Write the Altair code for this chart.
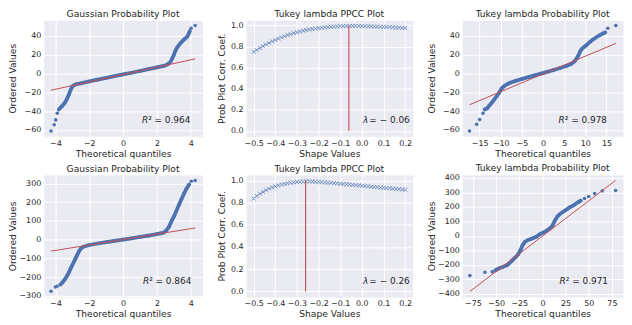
import altair as alt
import pandas as pd

FONT = "DejaVu Sans"
BG = "#EAEAF2"
BLUE = "#4C72B0"
RED = "#C44E52"
TXT = "#262626"

# ---------------- data ----------------
# Top-left: Gaussian probability plot
g1_body_x = [-3.80, -3.70, -3.60, -3.50, -3.40, -3.30, -3.20, -3.10, -3.00, -2.90, -2.75, -2.50,
             -2.00, -1.50, -1.00, -0.50, 0.00, 0.50, 1.00, 1.50, 2.00, 2.40, 2.65, 2.80, 2.90,
             3.00, 3.10, 3.20, 3.35, 3.50, 3.65, 3.80, 3.88, 3.94]
g1_body_y = [-38.3, -36.5, -34.5, -32.5, -30.0, -26.5, -22.5, -17.5, -14.0, -12.6, -11.4, -10.6,
             -8.6, -6.7, -4.8, -3.0, -1.2, 0.6, 2.5, 4.4, 6.3, 7.9, 9.7, 12.0, 15.5,
             19.5, 24.0, 27.5, 31.0, 34.0, 36.5, 39.0, 42.0, 44.5]
g1_tail_x = [-4.26, -4.07, -3.98, -3.89, 4.02, 4.26]
g1_tail_y = [-61.0, -54.5, -49.3, -42.3, 47.7, 50.7]
g1_fit_x = [-4.26, 4.26]
g1_fit_y = [-17.9, 15.3]

# Top-right: Tukey lambda probability plot
t1_body_x = [-13.8, -13.2, -12.8, -12.2, -11.6, -11.0, -10.4, -9.8, -9.2, -8.6, -7.8, -6.5,
             -5.0, -3.5, -2.0, -0.5, 1.0, 2.5, 4.0, 5.5, 6.7, 7.5, 8.0, 8.4, 8.8, 9.2, 9.7,
             10.3, 11.0, 11.8, 12.6, 13.4, 14.2, 14.7]
t1_body_y = [-38.3, -37.0, -34.5, -31.5, -28.0, -24.5, -20.5, -16.0, -13.5, -11.8, -10.0, -8.0,
             -6.0, -4.0, -2.2, -0.3, 1.6, 3.6, 5.6, 7.8, 10.2, 13.0, 16.0, 19.5, 23.5, 26.0, 28.0,
             30.0, 33.0, 35.8, 38.2, 40.4, 42.3, 43.3]
t1_tail_x = [-17.4, -15.7, -15.0, -14.2, 15.3, 17.2]
t1_tail_y = [-61.0, -54.0, -49.0, -42.3, 47.7, 50.7]
t1_fit_x = [-17.4, 17.2]
t1_fit_y = [-33.3, 31.7]

# Bottom-left: Gaussian probability plot
g2_body_x = [-3.70, -3.60, -3.50, -3.40, -3.30, -3.20, -3.10, -3.00, -2.90, -2.80, -2.70, -2.60,
             -2.50, -2.35, -2.00, -1.50, -1.00, -0.50, 0.00, 0.50, 1.00, 1.50, 2.00, 2.40, 2.55,
             2.70, 2.85, 3.00, 3.15, 3.30, 3.45, 3.60, 3.75, 3.90]
g2_body_y = [-240, -230, -220, -206, -192, -175, -155, -136, -118, -99, -80, -62,
             -49, -38, -29, -21, -14, -7, 0, 7, 14, 21, 29, 37, 48,
             66, 95, 122, 152, 185, 215, 245, 272, 293]
g2_tail_x = [-4.26, -4.00, -3.90, 4.03, 4.26]
g2_tail_y = [-276, -253, -249, 311, 315]
g2_fit_x = [-4.26, 4.26]
g2_fit_y = [-61.5, 62.0]

# Bottom-right: Tukey lambda probability plot
t2_body_x = [-50.7, -47.8, -42.4, -37.7, -33.4, -29.8, -26.2, -23.3, -21.5, -19.0, -16.2, -11.8,
             -6.5, -2.9, 0.7, 4.3, 7.9, 10.8, 13.3, 16.2, 19.7, 24.1, 29.4, 34.1, 38.4, 41.3]
t2_body_y = [-237, -227, -213, -200, -174, -151, -128, -93, -65, -42, -30, -19,
             -5, 12, 23, 35, 51, 70, 104, 135, 155, 174, 197, 213, 232, 243]
t2_tail_x = [-78.3, -62.1, -54.2, 45.5, 50.0, 56.4, 64.6, 79.0]
t2_tail_y = [-274, -251, -248, 258, 272, 292, 311, 313]
t2_fit_x = [-78.3, 79.0]
t2_fit_y = [-383, 383]

# PPCC plots
shape_values = [-0.5, -0.486, -0.471, -0.457, -0.443, -0.429, -0.414, -0.4, -0.386, -0.371,
                -0.357, -0.343, -0.329, -0.314, -0.3, -0.286, -0.271, -0.257, -0.243, -0.229,
                -0.214, -0.2, -0.186, -0.171, -0.157, -0.143, -0.129, -0.114, -0.1, -0.086,
                -0.071, -0.057, -0.043, -0.029, -0.014, 0.0, 0.014, 0.029, 0.043, 0.057,
                0.071, 0.086, 0.1, 0.114, 0.129, 0.143, 0.157, 0.171, 0.186, 0.2]
ppcc_top = [0.750, 0.768, 0.786, 0.803, 0.819, 0.834, 0.849, 0.862, 0.875, 0.887,
            0.898, 0.909, 0.918, 0.927, 0.935, 0.943, 0.950, 0.956, 0.961, 0.966,
            0.971, 0.975, 0.978, 0.982, 0.984, 0.987, 0.989, 0.991, 0.992, 0.993,
            0.994, 0.995, 0.995, 0.995, 0.994, 0.994, 0.993, 0.992, 0.991, 0.990,
            0.989, 0.988, 0.987, 0.986, 0.984, 0.983, 0.981, 0.980, 0.978, 0.977]
ppcc_bottom = [0.837, 0.860, 0.880, 0.897, 0.912, 0.925, 0.937, 0.947, 0.955, 0.963,
               0.969, 0.975, 0.979, 0.983, 0.986, 0.988, 0.990, 0.991, 0.991, 0.990,
               0.989, 0.987, 0.985, 0.983, 0.981, 0.979, 0.976, 0.974, 0.971, 0.968,
               0.966, 0.963, 0.960, 0.957, 0.955, 0.952, 0.949, 0.947, 0.944, 0.941,
               0.939, 0.936, 0.934, 0.931, 0.929, 0.926, 0.924, 0.921, 0.919, 0.917]
lambdas = [-0.06, -0.26]
lambda_labels = ["0.06", "0.26"]
r2_labels = ["0.964", "0.978", "0.864", "0.971"]

titles = ["Gaussian Probability Plot", "Tukey lambda PPCC Plot", "Tukey lambda Probability Plot"]

XSHAPE = "M-1,-1L1,1M-1,1L1,-1"


def title_params(text):
    return alt.TitleParams(text=text, font=FONT, fontSize=9.2, fontWeight="normal", color=TXT,
                           offset=1, frame="group", anchor="middle")


def annot(sym, rest, tx, ty):
    d = pd.DataFrame({"a": [sym], "b": [rest]})
    t1 = alt.Chart(d).mark_text(align="left", baseline="alphabetic", font=FONT, fontSize=9,
                                fontStyle="italic", color=TXT).encode(
        x=alt.value(tx), y=alt.value(ty), text="a:N")
    t2 = alt.Chart(d).mark_text(align="left", baseline="alphabetic", font=FONT, fontSize=9,
                                color=TXT).encode(
        x=alt.value(tx + 6.3), y=alt.value(ty), text="b:N")
    return [t1, t2]


def prob_panel(title, bx, by, tx, ty, fx, fy, r2, xdom, ydom, xvals, yvals, w, h, text_x):
    body = pd.DataFrame({"x": bx, "y": by})
    pts = pd.DataFrame({"x": bx + tx, "y": by + ty})
    fit = pd.DataFrame({"x": fx, "y": fy})
    X = alt.X("x:Q", scale=alt.Scale(domain=xdom, nice=False, zero=False),
              axis=alt.Axis(values=xvals, title="Theoretical quantiles", labelFlush=False,
                            labelOverlap=False))
    Y = alt.Y("y:Q", scale=alt.Scale(domain=ydom, nice=False, zero=False),
              axis=alt.Axis(values=yvals, title="Ordered Values", minExtent=24, maxExtent=24,
                            labelOverlap=False))
    strip = alt.Chart(body).mark_line(color=BLUE, strokeWidth=3.8, strokeCap="round",
                                      strokeJoin="round").encode(x=X, y=Y)
    dots = alt.Chart(pts).mark_circle(color=BLUE, size=13, opacity=1).encode(x=X, y=Y)
    line = alt.Chart(fit).mark_line(color=RED, strokeWidth=1).encode(x=X, y=Y)
    layers = [strip, dots, line] + annot("R", "² = " + r2, text_x, h - 13)
    return alt.layer(*layers).properties(width=w, height=h, title=title_params(title))


def ppcc_panel(corr, lam, lam_label, w, h, text_x):
    df = pd.DataFrame({"x": shape_values, "y": corr})
    rule = pd.DataFrame({"x": [lam], "y0": [0.0], "y1": [1.0]})
    xs = alt.Scale(domain=[-0.535, 0.235], nice=False, zero=False)
    ys = alt.Scale(domain=[-0.05, 1.05], nice=False, zero=False)
    xax = alt.Axis(values=[-0.5, -0.4, -0.3, -0.2, -0.1, 0.0, 0.1, 0.2], format=".1f",
                   title="Shape Values", labelFlush=False, labelOverlap=False)
    yax = alt.Axis(values=[0.0, 0.2, 0.4, 0.6, 0.8, 1.0], format=".1f",
                   title="Prob Plot Corr. Coef.", minExtent=18, maxExtent=18, labelOverlap=False)
    marks = alt.Chart(df).mark_point(shape=XSHAPE, filled=False, size=16, strokeWidth=0.8,
                                     color=BLUE, opacity=0.9).encode(
        x=alt.X("x:Q", scale=xs, axis=xax), y=alt.Y("y:Q", scale=ys, axis=yax))
    vline = alt.Chart(rule).mark_rule(color=RED, strokeWidth=1.1).encode(
        x=alt.X("x:Q", scale=xs, axis=xax), y=alt.Y("y0:Q", scale=ys, axis=yax), y2="y1:Q")
    layers = [marks, vline] + annot("λ", " = − " + lam_label, text_x, h - 13)
    return alt.layer(*layers).properties(width=w, height=h, title=title_params(titles[1]))


W1, W2, W3 = 160, 168, 162
H1, H2 = 117, 123

p1 = prob_panel(titles[0], g1_body_x, g1_body_y, g1_tail_x, g1_tail_y, g1_fit_x, g1_fit_y,
                r2_labels[0], [-4.69, 4.69], [-66.6, 56.3], [-4, -2, 0, 2, 4],
                [-60, -40, -20, 0, 20, 40], W1, H1, 99)
p2 = ppcc_panel(ppcc_top, lambdas[0], lambda_labels[0], W2, H1, 118)
p3 = prob_panel(titles[2], t1_body_x, t1_body_y, t1_tail_x, t1_tail_y, t1_fit_x, t1_fit_y,
                r2_labels[1], [-19.1, 18.9], [-66.6, 56.3], [-15, -10, -5, 0, 5, 10, 15],
                [-60, -40, -20, 0, 20, 40], W3, H1, 97)
p4 = prob_panel(titles[0], g2_body_x, g2_body_y, g2_tail_x, g2_tail_y, g2_fit_x, g2_fit_y,
                r2_labels[2], [-4.69, 4.69], [-306, 345], [-4, -2, 0, 2, 4],
                [-300, -200, -100, 0, 100, 200, 300], W1, H2, 100)
p5 = ppcc_panel(ppcc_bottom, lambdas[1], lambda_labels[1], W2, H2, 118)
p6 = prob_panel(titles[2], t2_body_x, t2_body_y, t2_tail_x, t2_tail_y, t2_fit_x, t2_fit_y,
                r2_labels[3], [-86.5, 87.0], [-421, 421], [-75, -50, -25, 0, 25, 50, 75],
                [-400, -300, -200, -100, 0, 100, 200, 300, 400], W3, H2, 98)

chart = alt.vconcat(
    alt.hconcat(p1, p2, p3, spacing=13),
    alt.hconcat(p4, p5, p6, spacing=13),
    spacing=4,
).properties(
    padding={"left": 0, "top": 0, "right": 0, "bottom": 0}
).configure_view(
    stroke="transparent", fill=BG
).configure_axis(
    domain=False, ticks=False, tickSize=0, grid=True, gridColor="white", gridWidth=1,
    labelFont=FONT, labelFontSize=8, labelColor=TXT, labelPadding=3,
    titleFont=FONT, titleFontSize=9.2, titleColor=TXT, titleFontWeight="normal", titlePadding=2,
)

chart.save("out.html", embed_options={"renderer": "svg", "actions": False})
